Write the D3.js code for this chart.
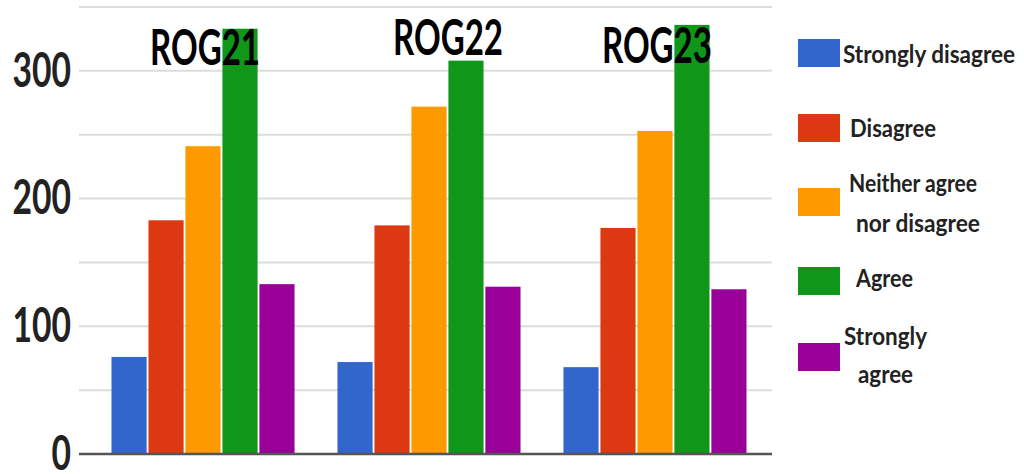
<!DOCTYPE html>
<html>
<head>
<meta charset="utf-8">
<script src="https://cdn.jsdelivr.net/npm/d3@7"></script>
<style>
  html, body { margin: 0; padding: 0; background: #fff; }
  svg { display: block; }
  text { font-family: Lato, "Open Sans", sans-serif; font-weight: 700; }
</style>
</head>
<body>
<svg id="chart" width="1024" height="474"></svg>
<script>
// Survey responses per round
const rounds = ["ROG21", "ROG22", "ROG23"];
const responses = ["Strongly disagree", "Disagree", "Neither agree nor disagree", "Agree", "Strongly agree"];
const stronglyDisagree = [76, 72, 68];
const disagree = [183, 179, 177];
const neither = [241, 272, 253];
const agree = [333, 308, 336];
const stronglyAgree = [133, 131, 129];
const yTicks = [0, 100, 200, 300];
const gridValues = [0, 50, 100, 150, 200, 250, 300, 350];

const seriesValues = [stronglyDisagree, disagree, neither, agree, stronglyAgree];
const colors = ["#3366cc", "#dc3912", "#ff9900", "#109618", "#990099"];

// Legend text broken into lines as drawn
const legendLines = [["Strongly disagree"], ["Disagree"], ["Neither agree", "nor disagree"], ["Agree"], ["Strongly", "agree"]];

const svg = d3.select("#chart");

const plot = { left: 79, right: 772, top: 7, bottom: 454 };

const y = d3.scaleLinear().domain([0, 350]).range([plot.bottom, plot.top]);

const x0 = d3.scaleBand().domain(rounds).range([88, 770])
  .paddingInner(0.19).paddingOuter(0.104);
const x1 = d3.scaleBand().domain(responses).range([0, x0.bandwidth()])
  .paddingInner(0.05);
const color = d3.scaleOrdinal().domain(responses).range(colors);

// Gridlines
svg.append("g")
  .selectAll("line")
  .data(gridValues.filter(v => v > 0))
  .join("line")
  .attr("x1", plot.left).attr("x2", plot.right)
  .attr("y1", d => y(d)).attr("y2", d => y(d))
  .attr("stroke", "#dcdcdc").attr("stroke-width", 2);

// Bars
const table = rounds.map((r, i) => ({
  round: r,
  values: responses.map((s, j) => ({ key: s, value: seriesValues[j][i] }))
}));

const groups = svg.append("g")
  .selectAll("g")
  .data(table)
  .join("g")
  .attr("transform", d => `translate(${x0(d.round)},0)`);

groups.selectAll("rect")
  .data(d => d.values)
  .join("rect")
  .attr("x", d => x1(d.key))
  .attr("width", x1.bandwidth())
  .attr("y", d => y(d.value))
  .attr("height", d => y(0) - y(d.value))
  .attr("fill", d => color(d.key));

// Baseline
svg.append("line")
  .attr("x1", plot.left).attr("x2", plot.right)
  .attr("y1", y(0)).attr("y2", y(0))
  .attr("stroke", "#555").attr("stroke-width", 2.5);

// Y axis labels
const yAxis = d3.axisLeft(y).tickValues(yTicks).tickSize(0).tickPadding(0);
const yg = svg.append("g").attr("transform", "translate(71,0)").call(yAxis);
yg.select(".domain").remove();
yg.selectAll("text")
  .attr("fill", "#222")
  .style("font-size", "48px")
  .style("font-family", "Lato, 'Open Sans', sans-serif")
  .style("font-weight", 700)
  .attr("dy", "0.32em")
  .attr("textLength", d => String(d).length * 19.5)
  .attr("lengthAdjust", "spacingAndGlyphs");

// Round labels above each group
const labelNudge = [{ dx: 2, y: 65 }, { dx: 19, y: 55 }, { dx: 2, y: 63 }];
svg.append("g")
  .selectAll("text")
  .data(rounds)
  .join("text")
  .attr("x", (d, i) => x0(d) + x0.bandwidth() / 2 + labelNudge[i].dx - 55)
  .attr("y", (d, i) => labelNudge[i].y)
  .attr("textLength", 110)
  .attr("lengthAdjust", "spacingAndGlyphs")
  .attr("fill", "#000")
  .style("font-size", "49px")
  .text(d => d);

// Legend
const legendLayout = [
  { sy: 39, tx: [843], ty: [63], tw: [172] },
  { sy: 114, tx: [850], ty: [137], tw: [86] },
  { sy: 188, tx: [849, 856], ty: [192, 232], tw: [128, 124] },
  { sy: 267, tx: [856], ty: [287], tw: [57] },
  { sy: 343, tx: [844, 858], ty: [345, 383], tw: [83, 55] }
];

const legend = svg.append("g");
responses.forEach((r, i) => {
  const L = legendLayout[i];
  legend.append("rect")
    .attr("x", 798).attr("y", L.sy)
    .attr("width", 42).attr("height", 28)
    .attr("fill", color(r));
  legendLines[i].forEach((line, k) => {
    legend.append("text")
      .attr("x", L.tx[k]).attr("y", L.ty[k])
      .attr("fill", "#222")
      .style("font-size", "25px")
      .attr("textLength", L.tw[k])
      .attr("lengthAdjust", "spacingAndGlyphs")
      .text(line);
  });
});
</script>
</body>
</html>
